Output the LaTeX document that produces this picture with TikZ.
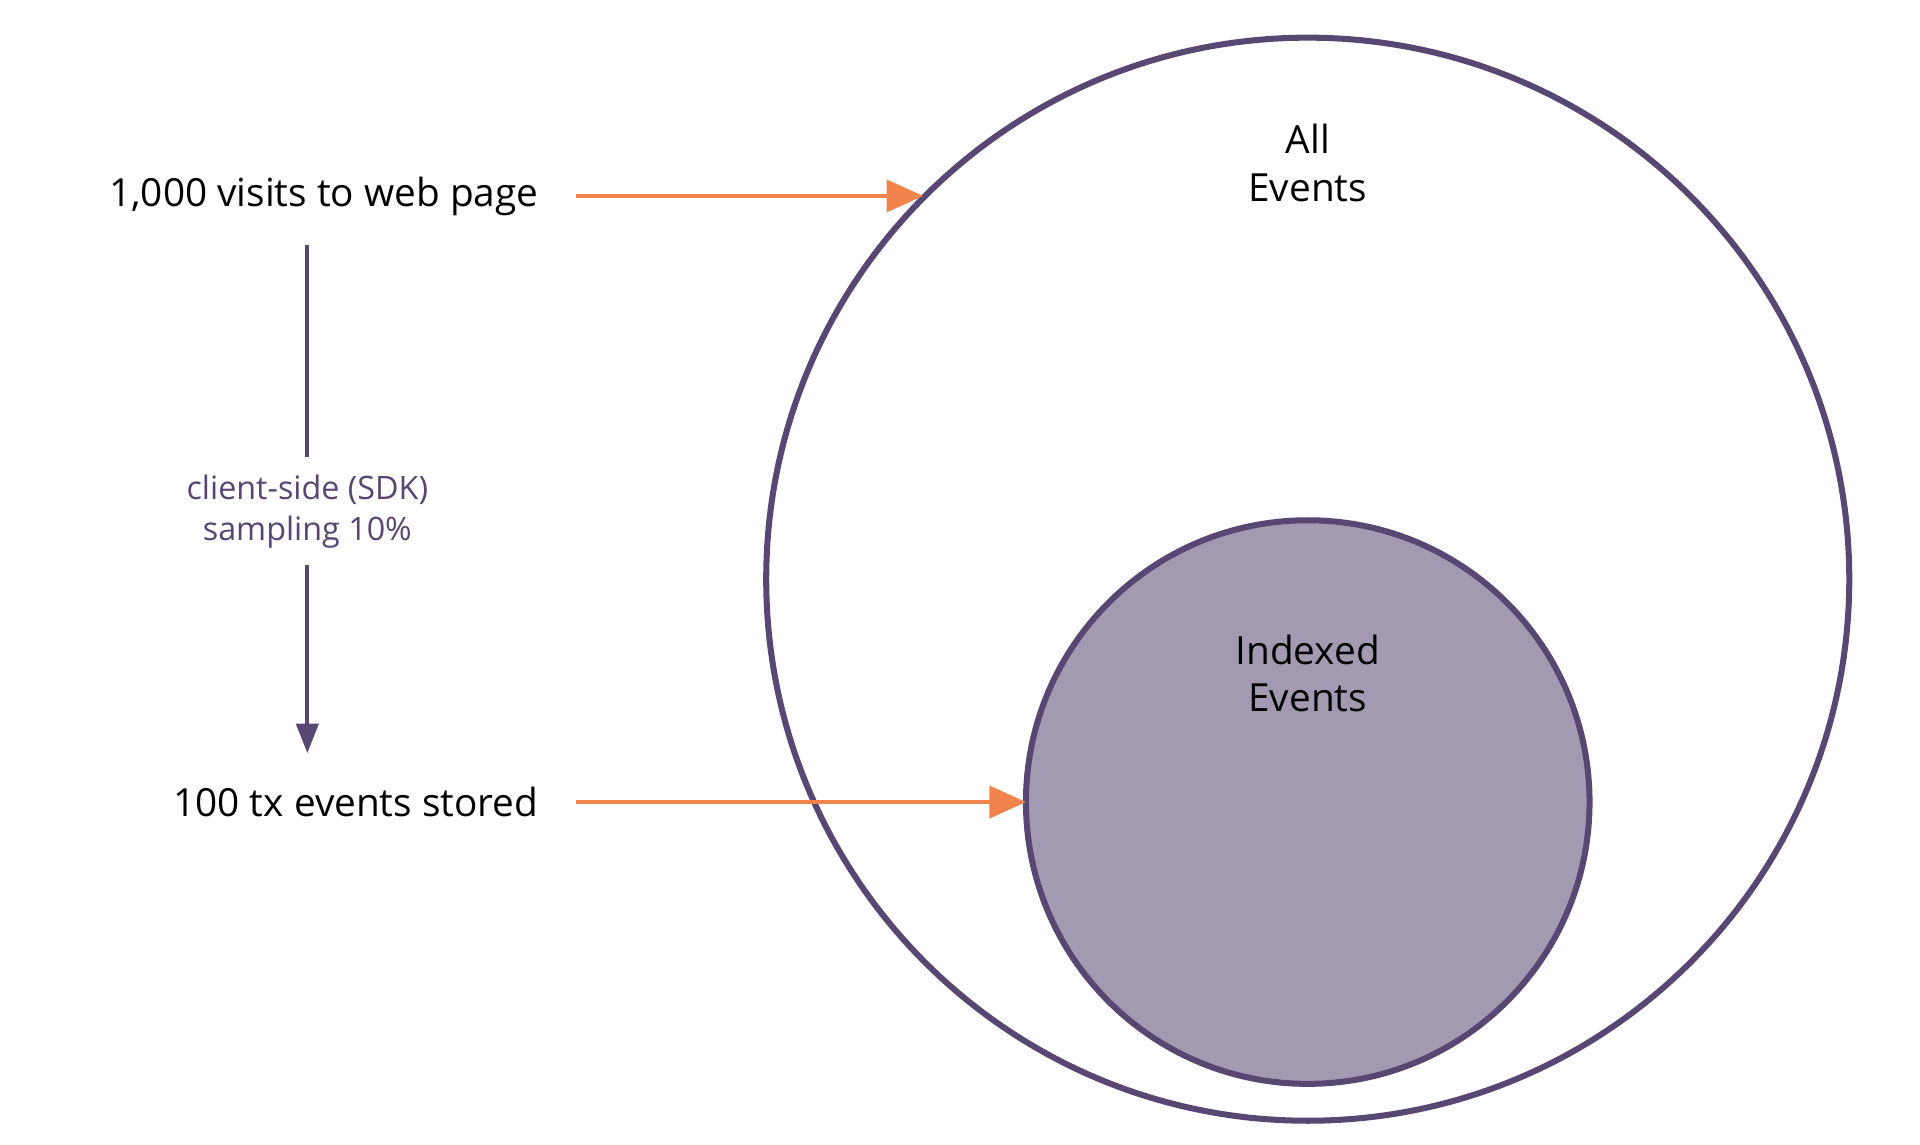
\documentclass[tikz,border=0pt]{standalone}
\usepackage{fontspec}
\setmainfont{Open Sans}
\usepackage{xcolor}
\usetikzlibrary{positioning}
\usetikzlibrary{arrows.meta}
\definecolor{plum}{HTML}{584673}
\definecolor{lilac}{HTML}{A39AB2}
\definecolor{tangerine}{HTML}{F0844C}

\tikzset{
  set/.style={circle,draw=plum,line width=1.4pt,inner sep=0pt},
  lbl/.style={font=\fontsize{9}{11}\selectfont,align=center},
  feed/.style={draw=tangerine,line width=1.1pt,-{Triangle[length=3mm,width=2.6mm]}},
}

\begin{document}
\begin{tikzpicture}[x=0.01cm,y=-0.01cm]
    \useasboundingbox (0,0) rectangle (1568,935);

    \node[set,minimum size=8.84cm] (all) at (1068,473) {};
    \node[set,fill=lilac,minimum size=4.6cm] (idx) at (1068,655) {};
    \node[lbl] at (1068,133) {All\\Events};
    \node[lbl] at (1068,550) {Indexed\\Events};

    \node[lbl,anchor=east] (visits) at (452,160) {1,000 visits to web page};
    \node[lbl,anchor=east] (stored) at (452,655) {100 tx events stored};
    \coordinate (top) at (251,200);
    \coordinate (bot) at (251,615);
    \coordinate (hitall) at (754,160);
    \coordinate (hitidx) at (838,655);

    \draw[plum,line width=0.9pt,-{Triangle[length=2.4mm,width=1.8mm]}] (top) -- (bot)
      node[midway,fill=white,lbl,font=\fontsize{7.5}{9.5}\selectfont,inner ysep=4pt,yshift=-1mm] {client-side (SDK)\\sampling 10\%};
    \draw[feed] (visits.east) ++(18,0) -- (hitall);
    \draw[feed] (stored.east) ++(18,0) -- (hitidx);

\end{tikzpicture}
\end{document}
